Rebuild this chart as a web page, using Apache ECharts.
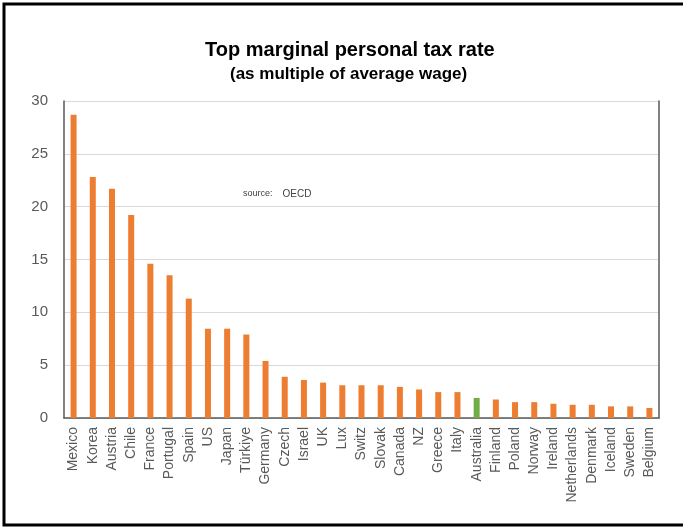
<!DOCTYPE html>
<html>
<head>
<meta charset="utf-8">
<script src="https://cdn.jsdelivr.net/npm/echarts@6/dist/echarts.min.js"></script>
<style>
  html, body { margin: 0; padding: 0; background: #fff; }
  #chart { width: 683px; height: 530px; }
</style>
</head>
<body>
<div id="chart"></div>
<script>
// Countries, ordered from highest to lowest threshold
const countries = ['Mexico', 'Korea', 'Austria', 'Chile', 'France', 'Portugal', 'Spain', 'US', 'Japan', 'Türkiye',
  'Germany', 'Czech', 'Israel', 'UK', 'Lux', 'Switz', 'Slovak', 'Canada', 'NZ', 'Greece',
  'Italy', 'Australia', 'Finland', 'Poland', 'Norway', 'Ireland', 'Netherlands', 'Denmark', 'Iceland', 'Sweden', 'Belgium'];

// Income at which the top marginal rate applies, as a multiple of the average wage
const multiples = [28.7, 22.8, 21.7, 19.2, 14.6, 13.5, 11.3, 8.45, 8.45, 7.9,
  5.4, 3.9, 3.6, 3.35, 3.1, 3.1, 3.1, 2.95, 2.7, 2.45,
  2.45, 1.9, 1.75, 1.5, 1.5, 1.35, 1.25, 1.25, 1.1, 1.1, 0.95];

const highlighted = 'Australia';
const yTicks = [0, 5, 10, 15, 20, 25, 30];

const ORANGE = '#ED7D31';
const GREEN = '#70AD47';
const AXIS_GREY = '#595959';
const FONT = 'Liberation Sans';

const chart = echarts.init(document.getElementById('chart'));

chart.setOption({
  backgroundColor: '#ffffff',
  animation: false,
  title: [
    {
      text: 'Top marginal personal tax rate',
      left: 205,
      top: 40,
      padding: 0,
      textStyle: { fontFamily: FONT, fontSize: 20, fontWeight: 'bold', color: '#000' }
    },
    {
      text: '(as multiple of average wage)',
      left: 230,
      top: 66,
      padding: 0,
      textStyle: { fontFamily: FONT, fontSize: 17, fontWeight: 'bold', color: '#000' }
    },
    {
      text: '{a|source:}  {b|OECD}',
      left: 243,
      top: 185,
      padding: 0,
      textStyle: {
        fontWeight: 'normal',
        rich: {
          a: { fontFamily: FONT, fontSize: 9, fontWeight: 'normal', color: '#404040' },
          b: { fontFamily: FONT, fontSize: 10, fontWeight: 'normal', color: '#404040' }
        }
      }
    }
  ],
  graphic: [
    {
      type: 'rect',
      shape: { x: 4, y: 4, width: 700, height: 521 },
      style: { fill: 'none', stroke: '#000', lineWidth: 3 },
      silent: true
    }
  ],
  grid: { left: 64, right: 24, top: 101, bottom: 112 },
  xAxis: [
    {
      type: 'category',
      data: countries,
      axisLine: { show: true, lineStyle: { color: '#d9d9d9', width: 1 } },
      axisTick: { show: false },
      axisLabel: {
        interval: 0,
        rotate: 90,
        margin: 9,
        color: AXIS_GREY,
        fontFamily: FONT,
        fontSize: 14
      }
    },
    {
      type: 'category',
      position: 'top',
      data: countries,
      axisLine: { show: true, lineStyle: { color: AXIS_GREY, width: 1.5 } },
      axisTick: { show: false },
      axisLabel: { show: false }
    }
  ],
  yAxis: [
    {
      type: 'value',
      min: yTicks[0],
      max: yTicks[yTicks.length - 1],
      interval: 5,
      axisLine: { show: true, lineStyle: { color: AXIS_GREY, width: 1.5 } },
      axisTick: { show: false },
      axisLabel: {
        margin: 16,
        color: AXIS_GREY,
        fontFamily: FONT,
        fontSize: 15
      },
      splitLine: { show: true, lineStyle: { color: '#d9d9d9', width: 1 } }
    },
    {
      type: 'value',
      position: 'right',
      min: yTicks[0],
      max: yTicks[yTicks.length - 1],
      interval: 5,
      axisLine: { show: true, lineStyle: { color: AXIS_GREY, width: 1.5 } },
      axisTick: { show: false },
      axisLabel: { show: false },
      splitLine: { show: false }
    }
  ],
  series: [
    {
      type: 'bar',
      xAxisIndex: 0,
      yAxisIndex: 0,
      barWidth: 6,
      data: multiples.map((v, i) => ({
        value: v,
        itemStyle: { color: countries[i] === highlighted ? GREEN : ORANGE }
      }))
    }
  ]
});
</script>
</body>
</html>
